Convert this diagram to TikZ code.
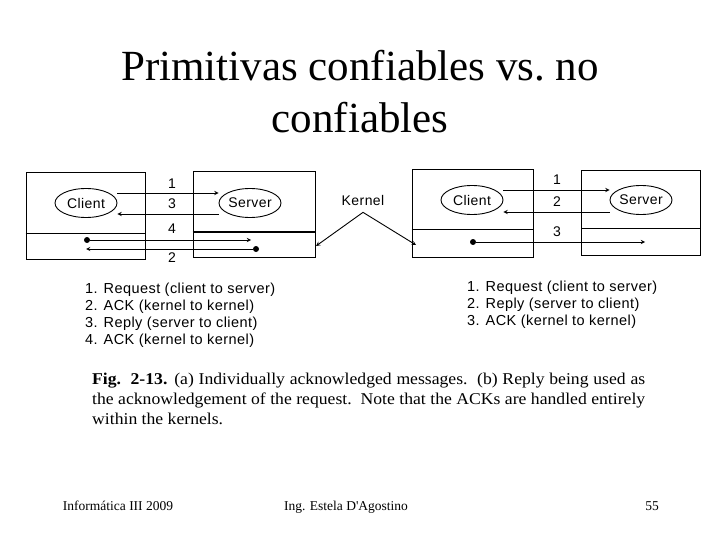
\documentclass[tikz,border=0pt]{standalone}
\usepackage{fontspec}
\setmainfont{Liberation Serif}
\newfontfamily\figfont[LetterSpace=3]{Liberation Sans}
\newfontfamily\capfont[FakeStretch=1.07]{Liberation Serif}
\usepackage{tikz}
\usetikzlibrary{shapes.geometric, arrows, positioning}
\tikzstyle{machine} = [rectangle, draw=black, line width=1pt, inner sep=0pt]
\tikzstyle{proc} = [ellipse, draw=black, line width=0.9pt, minimum width=62pt, minimum height=29pt, inner sep=0pt, font=\figfont\fontsize{14pt}{16pt}\selectfont]
\tikzstyle{msgnum} = [inner sep=0pt, font=\figfont\fontsize{14pt}{16pt}\selectfont]
\tikzstyle{legend} = [anchor=north west, align=left, inner sep=0pt, font=\figfont\fontsize{14.5pt}{17pt}\selectfont]
\tikzstyle{dot} = [circle, fill=black, inner sep=0pt, minimum size=6pt]
\tikzstyle{arrow} = [line width=0.9pt,->,>=stealth]

\begin{document}
\begin{tikzpicture}[x=1pt,y=-1pt]
\useasboundingbox[fill=white] (0,0) rectangle (720,540);

\node (title) [anchor=north, align=center, inner sep=0pt, font=\fontsize{43pt}{52pt}\selectfont] at (360,50) {Primitivas confiables vs.\ no\\confiables};

% (a) individually acknowledged
\node (hostA) [machine, minimum width=119pt, minimum height=86pt] at (85.5,216) {};
\node (hostB) [machine, minimum width=122pt, minimum height=85pt] at (254,214.5) {};
\draw [line width=1pt] (hostA.west |- 0,233) -- (hostA.east |- 0,233);
\draw [line width=1pt] (hostB.west |- 0,232) -- (hostB.east |- 0,232);
\node (cliA) [proc] at (86,203) {Client};
\node (srvA) [proc] at (250,203) {Server};
\node (dotA4) [dot] at (87,240) {};
\coordinate (endA4) at (251,240);
\node (dotA2) [dot] at (256,249) {};
\coordinate (endA2) at (86,249);

\draw [arrow] ([yshift=10pt]cliA.east) -- ([yshift=10pt]srvA.west);
\draw [arrow] ([yshift=-11pt]srvA.west) -- ([yshift=-11pt]cliA.east);
\draw [arrow] (dotA4) -- (endA4);
\draw [arrow] (dotA2) -- (endA2);

\node (numA1) [msgnum] at (172,184) {1};
\node (numA3) [msgnum] at (172,204) {3};
\node (numA4) [msgnum] at (172,229) {4};
\node (numA2) [msgnum] at (172,258) {2};

% kernel pointer
\node (kern) [msgnum] at (363,200) {Kernel};
\coordinate (kpeak) at ([yshift=-7pt]kern.south);
\coordinate (kleft) at (316,246);
\coordinate (kright) at (416,245);
\draw [arrow] (kpeak) -- (kleft);
\draw [arrow] (kpeak) -- (kright);

% (b) reply used as ack
\node (hostC) [machine, minimum width=121pt, minimum height=87pt] at (472.5,213.5) {};
\node (hostD) [machine, minimum width=119pt, minimum height=85pt] at (641,213) {};
\draw [line width=1pt] (hostC.west |- 0,230) -- (hostC.east |- 0,230);
\draw [line width=1pt] (hostD.west |- 0,229) -- (hostD.east |- 0,229);
\node (cliB) [proc] at (472,200) {Client};
\node (srvB) [proc] at (641,200) {Server};
\node (dotB3) [dot] at (473,242) {};
\coordinate (endB3) at (645,242);

\draw [arrow] ([yshift=10pt]cliB.east) -- ([yshift=10pt]srvB.west);
\draw [arrow] ([yshift=-12pt]srvB.west) -- ([yshift=-12pt]cliB.east);
\draw [arrow] (dotB3) -- (endB3);

\node (numB1) [msgnum] at (557,180) {1};
\node (numB2) [msgnum] at (557,202) {2};
\node (numB3) [msgnum] at (557,232) {3};

% legends
\node (legA) [legend] at (85,283) {1. Request (client to server)\\2. ACK (kernel to kernel)\\3. Reply (server to client)\\4. ACK (kernel to kernel)};
\node (legB) [legend] at (467,281) {1. Request (client to server)\\2. Reply (server to client)\\3. ACK (kernel to kernel)};

% caption
\node (cap) [anchor=north west, text width=553pt, align=justify, inner sep=0pt, font=\capfont\fontsize{16.5pt}{20pt}\selectfont] at (92,373) {\textbf{Fig.\ \ 2-13.} (a) Individually acknowledged messages.\ \ (b) Reply being used as\linebreak the acknowledgement of the request.\ \ Note that the ACKs are handled entirely\linebreak within the kernels.};

% footer
\node (foot1) [anchor=base, inner sep=0pt, font=\fontsize{13.5pt}{16pt}\selectfont] at (118,510) {Informática III 2009};
\node (foot2) [anchor=base, inner sep=0pt, font=\fontsize{13.5pt}{16pt}\selectfont] at (346,510) {Ing. Estela D\textquotesingle Agostino};
\node (foot3) [anchor=base, inner sep=0pt, font=\fontsize{13.5pt}{16pt}\selectfont] at (652,510) {55};

\end{tikzpicture}
\end{document}
